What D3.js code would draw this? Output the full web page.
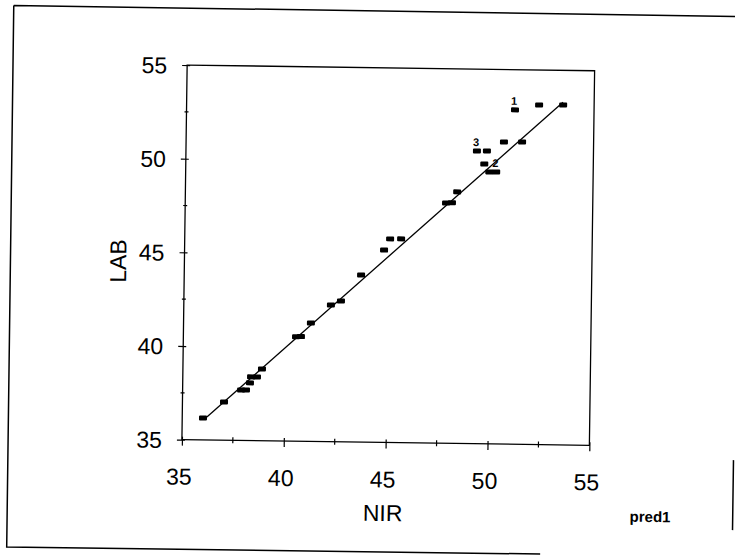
<!DOCTYPE html>
<html>
<head>
<meta charset="utf-8">
<script src="https://cdn.jsdelivr.net/npm/d3@7"></script>
<style>
  html, body { margin: 0; padding: 0; background: #fff; }
  svg { display: block; }
  text { font-family: "Liberation Sans", Arial, Helvetica, sans-serif; fill: #000; }
</style>
</head>
<body>
<svg id="chart" width="735" height="555"></svg>
<script>
// ---- data ----
const nir = [36.02, 37.04, 37.87, 38.11, 38.30, 38.35, 38.64, 38.88, 40.53, 40.77,
             41.25, 42.22, 42.71, 43.68, 44.79, 45.08, 45.62, 47.80, 48.09, 48.34,
             49.65, 49.90, 50.24, 49.28, 49.77, 50.60, 51.49, 51.12, 52.30, 53.48];
const lab = [36.17, 37.04, 37.69, 37.70, 38.08, 38.40, 38.40, 38.83, 40.58, 40.59,
             41.32, 42.30, 42.52, 43.92, 45.27, 45.87, 45.88, 47.83, 47.85, 48.43,
             49.94, 49.52, 49.52, 50.63, 50.64, 51.13, 51.14, 52.85, 53.13, 53.15];
const obsLabels = ["", "", "", "", "", "", "", "", "", "",
                   "", "", "", "", "", "", "", "", "", "",
                   "", "", "2", "3", "", "", "", "1", "", ""];
const fitNir = [36.21, 53.47];
const fitLab = [36.23, 53.29];
const xMajorTicks = [35, 40, 45, 50, 55];
const xMinorTicks = [37.5, 42.5, 47.5, 52.5];
const yMajorTicks = [35, 40, 45, 50, 55];
const yMinorTicks = [37.5, 42.5, 47.5, 52.5];
const xTitle = "NIR";
const yTitle = "LAB";
const cornerNote = "pred1";

// ---- layout ----
const svg = d3.select("#chart");
const root = svg.append("g").attr("transform", "rotate(0.8, 367.5, 277.5)");

const pL = 184.2, pR = 591.7, pT = 67.6, pB = 442.2;
const x = d3.scaleLinear().domain([35, 55]).range([pL, pR]);
const y = d3.scaleLinear().domain([35, 55]).range([pB, pT]);

// outer page frame
root.append("path")
  .attr("d", "M10,10.4 L736,11.4 M10,10.4 L10.5,552 L544,551.6 M736,455 L736,525")
  .attr("fill", "none").attr("stroke", "#000").attr("stroke-width", 1.5);

// plot box
root.append("rect")
  .attr("x", pL).attr("y", pT)
  .attr("width", pR - pL).attr("height", pB - pT)
  .attr("fill", "none").attr("stroke", "#000").attr("stroke-width", 1.3);

// x axis
const gx = root.append("g").attr("transform", `translate(0,${pB})`)
  .call(d3.axisBottom(x).tickValues(xMajorTicks).tickSize(6).tickFormat(d3.format("d")));
gx.select(".domain").remove();
gx.selectAll(".tick line").attr("y1", -3).attr("stroke", "#000").attr("stroke-width", 1.2);
gx.selectAll(".tick text")
  .attr("y", 45).attr("dy", null).attr("dx", -3)
  .style("font-size", "23px").attr("font-family", null);

root.append("g").attr("transform", `translate(0,${pB})`)
  .selectAll("line").data(xMinorTicks).join("line")
  .attr("x1", d => x(d)).attr("x2", d => x(d))
  .attr("y1", -3).attr("y2", 3)
  .attr("stroke", "#000").attr("stroke-width", 1.2);

// y axis
const gy = root.append("g").attr("transform", `translate(${pL},0)`)
  .call(d3.axisLeft(y).tickValues(yMajorTicks).tickSize(5).tickFormat(d3.format("d")));
gy.select(".domain").remove();
gy.selectAll(".tick line").attr("x1", 3).attr("stroke", "#000").attr("stroke-width", 1.2);
gy.selectAll(".tick text")
  .attr("x", -20).attr("dy", "0.35em")
  .style("font-size", "23px").attr("font-family", null);

root.append("g").attr("transform", `translate(${pL},0)`)
  .selectAll("line").data(yMinorTicks).join("line")
  .attr("y1", d => y(d)).attr("y2", d => y(d))
  .attr("x1", -2).attr("x2", 2)
  .attr("stroke", "#000").attr("stroke-width", 1.2);

// fit line
const fitLine = d3.line().x(d => x(d[0])).y(d => y(d[1]));
root.append("path")
  .datum(d3.zip(fitNir, fitLab))
  .attr("d", fitLine)
  .attr("fill", "none").attr("stroke", "#000").attr("stroke-width", 1.3);

// points
const pts = nir.map((v, i) => ({ nx: v, ly: lab[i], lbl: obsLabels[i] }));
root.append("g").selectAll("rect").data(pts).join("rect")
  .attr("x", d => x(d.nx) - 4).attr("y", d => y(d.ly) - 2.5)
  .attr("width", 8).attr("height", 5)
  .attr("rx", 1)
  .attr("fill", "#000");

root.append("g").selectAll("text").data(pts.filter(d => d.lbl !== "")).join("text")
  .attr("x", d => x(d.nx) - 1).attr("y", d => y(d.ly) - 5)
  .attr("text-anchor", "middle")
  .style("font-size", "11px").style("font-weight", "bold")
  .text(d => d.lbl);

// axis titles
root.append("text")
  .attr("x", (pL + pR) / 2 - 2).attr("y", 520.8)
  .attr("text-anchor", "middle")
  .style("font-size", "23px")
  .text(xTitle);

root.append("text")
  .attr("transform", `translate(126,264.5) rotate(-90)`)
  .attr("text-anchor", "middle")
  .style("font-size", "23px")
  .text(yTitle);

root.append("text")
  .attr("x", 633).attr("y", 518)
  .style("font-size", "15px").style("font-weight", "bold")
  .text(cornerNote);
</script>
</body>
</html>
